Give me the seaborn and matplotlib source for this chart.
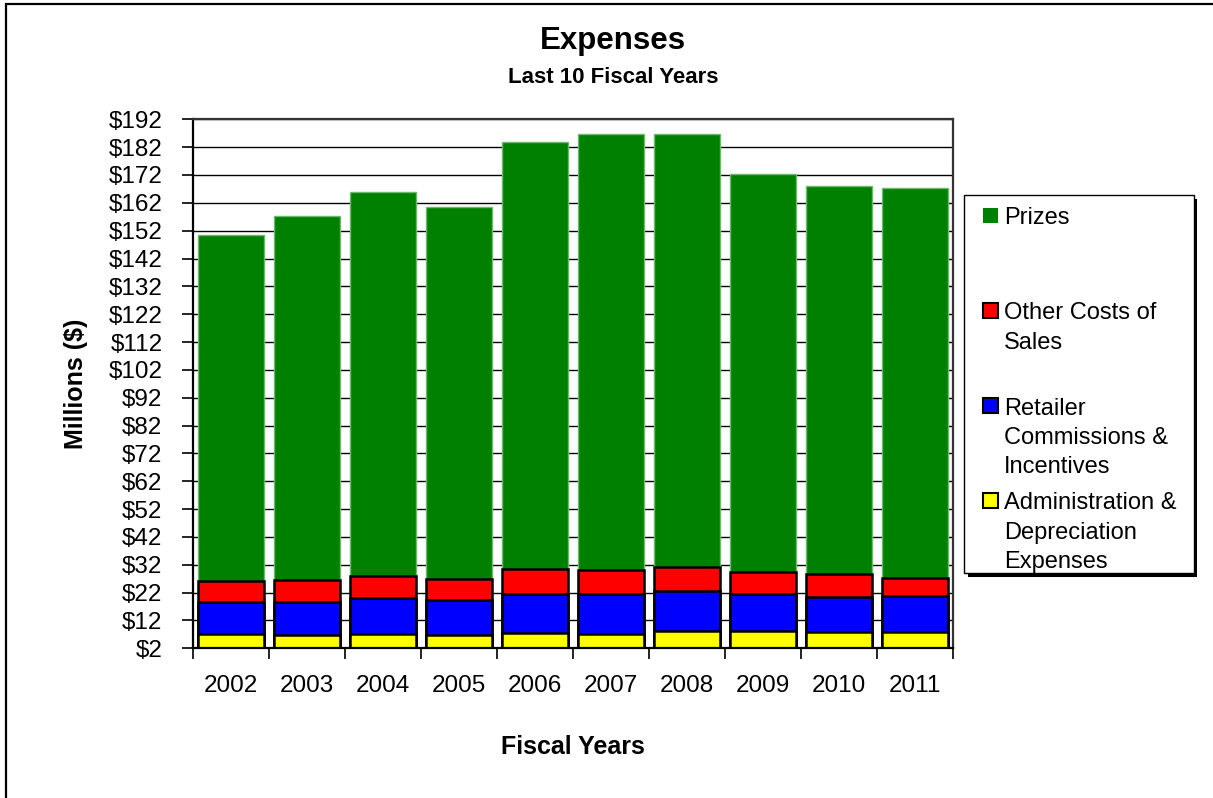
import matplotlib
matplotlib.use("Agg")
import numpy as np
import pandas as pd
import matplotlib.pyplot as plt
import seaborn as sns
from matplotlib.patches import Rectangle
from matplotlib.ticker import FixedLocator, FuncFormatter


# values in millions of dollars
years = ["2002", "2003", "2004", "2005", "2006", "2007", "2008", "2009", "2010", "2011"]
admin = [7.1, 6.8, 7.1, 6.8, 7.4, 7.1, 8.3, 8.3, 7.9, 7.9]
retailer = [11.4, 11.7, 12.9, 12.4, 14.1, 14.3, 14.3, 13.1, 12.6, 12.9]
other_costs = [7.6, 8.0, 7.9, 7.7, 9.0, 8.7, 8.7, 8.0, 8.1, 6.6]
prizes = [124.4, 130.7, 138.0, 133.5, 153.3, 156.5, 155.3, 142.9, 139.6, 139.8]

series_labels = [
    "Prizes",
    "Other Costs of\nSales",
    "Retailer\nCommissions &\nIncentives",
    "Administration &\nDepreciation\nExpenses",
]
series_colors = ["#008000", "#FF0000", "#0000FF", "#FFFF00"]
y_ticks = list(range(2, 193, 10))

W, H = 1213, 798


def fx(x):
    return x / W


def fy(y):
    return 1 - y / H


def main():
    sns.set_theme(style="white")
    plt.rcParams["font.family"] = ["Liberation Sans", "DejaVu Sans"]
    plt.rcParams.update({
        "text.color": "black",
        "axes.labelcolor": "black",
        "xtick.color": "black",
        "ytick.color": "black",
    })

    df = pd.DataFrame({
        "year": years,
        "admin": admin,
        "retailer": retailer,
        "other": other_costs,
        "prizes": prizes,
    })
    # cumulative tops for the stack
    df["top_admin"] = df["admin"]
    df["top_retailer"] = df["top_admin"] + df["retailer"]
    df["top_other"] = df["top_retailer"] + df["other"]
    df["top_prizes"] = df["top_other"] + df["prizes"]

    fig = plt.figure(figsize=(W / 100, H / 100), dpi=100)
    ax = fig.add_axes([fx(193), fy(648.3), fx(953 - 193), (648.3 - 119.3) / H])

    layers = [
        ("top_prizes", series_colors[0], "#70b870", 1.0),
        ("top_other", series_colors[1], "black", 1.8),
        ("top_retailer", series_colors[2], "black", 1.8),
        ("top_admin", series_colors[3], "black", 1.8),
    ]
    for col, color, edge, lw in layers:
        sns.barplot(data=df, x="year", y=col, color=color, saturation=1,
                    width=0.86, errorbar=None, edgecolor=edge, linewidth=lw,
                    ax=ax)

    ax.set_ylim(2, 192)
    ax.set_xlim(-0.5, len(years) - 0.5)
    ax.yaxis.set_major_locator(FixedLocator(y_ticks))
    ax.yaxis.set_major_formatter(FuncFormatter(lambda v, p: f"${v:.0f}"))
    ax.yaxis.grid(True, color="black", linewidth=1.0)
    ax.set_axisbelow(True)

    ax.set_xticks(range(len(years)))
    ax.set_xticklabels(years)
    ax.set_xticks(np.arange(-0.5, len(years), 1), minor=True)
    ax.tick_params(axis="x", which="major", length=0, pad=19, labelsize=17.5,
                   colors="black")
    ax.tick_params(axis="x", which="minor", length=8, width=1.2,
                   direction="out", color="black", bottom=True)
    ax.tick_params(axis="y", length=8, width=1.2, direction="out", pad=14,
                   labelsize=17.5, colors="black", left=True)

    for side, spine in ax.spines.items():
        spine.set_visible(True)
        spine.set_color("black" if side in ("left", "bottom") else "#333333")
        spine.set_linewidth(1.6)

    ax.set_xlabel("Fiscal Years", fontsize=18, fontweight="bold", color="black")
    ax.xaxis.set_label_coords(0.5, -0.164)
    ax.set_ylabel("Millions ($)", fontsize=18, fontweight="bold", color="black")
    ax.yaxis.label.set_va("center")
    ax.yaxis.set_label_coords(-0.154, 0.5)

    fig.text(fx(613), fy(49.5), "Expenses", ha="center", va="baseline",
             fontsize=22.5, fontweight="bold", color="black")
    fig.text(fx(613), fy(83), "Last 10 Fiscal Years", ha="center",
             va="baseline", fontsize=16, fontweight="bold", color="black")

    # outer chart border
    fig.patches.append(Rectangle((fx(6), -0.05), 1.2, fy(4) + 0.05,
                                 transform=fig.transFigure, fill=False,
                                 edgecolor="black", linewidth=1.6))

    # legend box with shadow, entries laid out like the Excel original
    lx0, ly0, lx1, ly1 = 964.3, 195, 1193.7, 573.3
    fig.patches.append(Rectangle((fx(lx0 + 3.5), fy(ly1 + 3.5)),
                                 fx(lx1 - lx0), (ly1 - ly0) / H,
                                 transform=fig.transFigure,
                                 facecolor="black", edgecolor="black",
                                 linewidth=0, zorder=1))
    fig.patches.append(Rectangle((fx(lx0), fy(ly1)), fx(lx1 - lx0),
                                 (ly1 - ly0) / H, transform=fig.transFigure,
                                 facecolor="white", edgecolor="black",
                                 linewidth=1.0, zorder=2))

    entry_tops = [208, 302.7, 398, 493]
    for label, color, top in zip(series_labels, series_colors, entry_tops):
        edge = "none" if color == "#008000" else "black"
        fig.patches.append(Rectangle((fx(982.5), fy(top + 15)), fx(15),
                                     15 / H, transform=fig.transFigure,
                                     facecolor=color, edgecolor=edge,
                                     linewidth=1.5, zorder=3))
        fig.text(fx(1004), fy(top - 0.5), label, ha="left", va="top",
                 fontsize=17, linespacing=1.43, color="black", zorder=4)

    fig.savefig("out.png", dpi=100)
    plt.close(fig)


if __name__ == "__main__":
    main()
